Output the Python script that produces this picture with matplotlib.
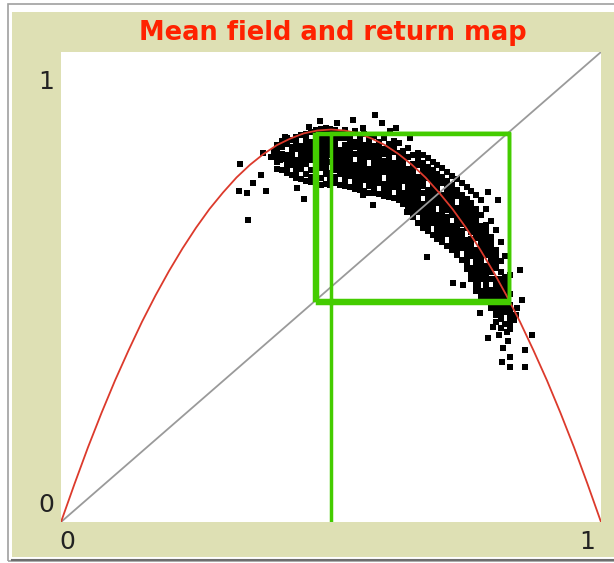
import matplotlib
matplotlib.use("Agg")
import matplotlib.pyplot as plt
from matplotlib.patches import Rectangle
from matplotlib.lines import Line2D

# ---------------- data ----------------
title = "Mean field and return map"
x_tick_labels = ["0", "1"]
y_tick_labels = ["0", "1"]

# mean-field return map (red curve)
map_x = [0.000, 0.025, 0.050, 0.075, 0.100, 0.125, 0.150, 0.175, 0.200, 0.225,
         0.250, 0.275, 0.300, 0.325, 0.350, 0.375, 0.400, 0.425, 0.450, 0.475,
         0.500, 0.525, 0.550, 0.575, 0.600, 0.625, 0.650, 0.675, 0.700, 0.725,
         0.750, 0.775, 0.800, 0.825, 0.850, 0.875, 0.900, 0.925, 0.950, 0.975, 1.000]
map_y = [0.000, 0.081, 0.159, 0.232, 0.301, 0.365, 0.426, 0.482, 0.534, 0.582,
         0.626, 0.666, 0.701, 0.733, 0.760, 0.783, 0.802, 0.816, 0.827, 0.833,
         0.835, 0.833, 0.827, 0.816, 0.802, 0.783, 0.760, 0.733, 0.701, 0.666,
         0.626, 0.582, 0.534, 0.482, 0.426, 0.365, 0.301, 0.232, 0.159, 0.081, 0.000]

# identity line
diag_x = [0.0, 1.0]
diag_y = [0.0, 1.0]

# cobweb (green)
cobweb_x = [0.500, 0.500, 0.829, 0.829, 0.469, 0.469, 0.829, 0.829, 0.474, 0.474, 0.830]
cobweb_y = [0.000, 0.828, 0.828, 0.472, 0.472, 0.826, 0.826, 0.467, 0.467, 0.828, 0.828]

# simulated return-map points: dense core, column by column
core_col_x = [0.400, 0.409, 0.418, 0.427, 0.436, 0.445, 0.454, 0.463, 0.472, 0.481,
              0.490, 0.499, 0.508, 0.517, 0.526, 0.535, 0.544, 0.553, 0.562, 0.571,
              0.580, 0.589, 0.598, 0.607, 0.616, 0.625, 0.634, 0.643, 0.652, 0.661,
              0.670, 0.679, 0.688, 0.697, 0.706, 0.715, 0.724, 0.733, 0.742, 0.751,
              0.760, 0.769, 0.778, 0.787, 0.796, 0.805, 0.814, 0.823, 0.832]
core_col_y = [
    [0.752, 0.765, 0.778, 0.790, 0.803],
    [0.748, 0.772, 0.784, 0.797, 0.810],
    [0.742, 0.755, 0.768, 0.781, 0.805, 0.816],
    [0.738, 0.760, 0.773, 0.786, 0.798, 0.812],
    [0.731, 0.745, 0.757, 0.770, 0.793, 0.806, 0.819],
    [0.729, 0.752, 0.764, 0.777, 0.789, 0.801, 0.823],
    [0.726, 0.740, 0.762, 0.775, 0.788, 0.800, 0.813, 0.826],
    [0.723, 0.735, 0.748, 0.770, 0.783, 0.796, 0.808, 0.830],
    [0.721, 0.744, 0.757, 0.769, 0.782, 0.794, 0.807, 0.819, 0.833],
    [0.718, 0.731, 0.753, 0.766, 0.779, 0.791, 0.804, 0.816, 0.836],
    [0.720, 0.741, 0.754, 0.766, 0.779, 0.792, 0.804, 0.817, 0.829],
    [0.718, 0.730, 0.743, 0.767, 0.780, 0.793, 0.805, 0.818, 0.836],
    [0.722, 0.735, 0.748, 0.760, 0.773, 0.786, 0.798, 0.811, 0.823, 0.835],
    [0.717, 0.741, 0.754, 0.766, 0.779, 0.791, 0.816, 0.828],
    [0.715, 0.728, 0.740, 0.753, 0.766, 0.778, 0.791, 0.803, 0.816, 0.834],
    [0.712, 0.736, 0.749, 0.761, 0.774, 0.787, 0.799, 0.812, 0.824],
    [0.709, 0.722, 0.734, 0.747, 0.759, 0.784, 0.797, 0.809, 0.831],
    [0.707, 0.719, 0.732, 0.745, 0.757, 0.770, 0.782, 0.795, 0.807, 0.820],
    [0.704, 0.728, 0.741, 0.753, 0.766, 0.778, 0.791, 0.803, 0.826],
    [0.701, 0.714, 0.727, 0.739, 0.752, 0.777, 0.789, 0.802, 0.814],
    [0.699, 0.712, 0.724, 0.737, 0.749, 0.762, 0.774, 0.787, 0.799, 0.822],
    [0.697, 0.721, 0.734, 0.746, 0.759, 0.771, 0.784, 0.796, 0.809],
    [0.694, 0.707, 0.719, 0.744, 0.757, 0.769, 0.782, 0.794, 0.816],
    [0.691, 0.704, 0.716, 0.729, 0.741, 0.754, 0.766, 0.779, 0.791, 0.804],
    [0.689, 0.713, 0.726, 0.738, 0.751, 0.763, 0.788, 0.800, 0.811],
    [0.686, 0.698, 0.711, 0.723, 0.736, 0.748, 0.761, 0.773, 0.786, 0.806],
    [0.676, 0.689, 0.701, 0.726, 0.739, 0.751, 0.764, 0.776, 0.789],
    [0.663, 0.676, 0.688, 0.701, 0.713, 0.726, 0.738, 0.751, 0.776, 0.796],
    [0.649, 0.662, 0.674, 0.687, 0.699, 0.712, 0.724, 0.737, 0.749, 0.762, 0.781],
    [0.636, 0.660, 0.673, 0.685, 0.698, 0.710, 0.723, 0.735, 0.760, 0.772, 0.786],
    [0.626, 0.639, 0.651, 0.664, 0.676, 0.701, 0.714, 0.726, 0.739, 0.751, 0.764, 0.780],
    [0.619, 0.631, 0.644, 0.656, 0.669, 0.681, 0.694, 0.706, 0.731, 0.744, 0.756, 0.774],
    [0.611, 0.636, 0.648, 0.661, 0.673, 0.686, 0.698, 0.711, 0.723, 0.736, 0.748, 0.767],
    [0.603, 0.615, 0.628, 0.640, 0.653, 0.678, 0.690, 0.703, 0.715, 0.728, 0.740, 0.760],
    [0.596, 0.608, 0.621, 0.633, 0.646, 0.658, 0.671, 0.683, 0.696, 0.721, 0.733, 0.753],
    [0.588, 0.613, 0.625, 0.638, 0.650, 0.663, 0.675, 0.688, 0.700, 0.713, 0.725, 0.745],
    [0.579, 0.591, 0.604, 0.616, 0.629, 0.654, 0.666, 0.679, 0.691, 0.704, 0.716, 0.737],
    [0.569, 0.581, 0.594, 0.606, 0.619, 0.631, 0.644, 0.656, 0.669, 0.694, 0.706, 0.729],
    [0.558, 0.583, 0.595, 0.608, 0.620, 0.633, 0.645, 0.658, 0.670, 0.683, 0.695, 0.721],
    [0.538, 0.551, 0.563, 0.576, 0.588, 0.601, 0.626, 0.638, 0.651, 0.663, 0.676, 0.688, 0.713],
    [0.516, 0.529, 0.541, 0.566, 0.578, 0.591, 0.603, 0.616, 0.628, 0.641, 0.653, 0.666, 0.678, 0.705],
    [0.491, 0.504, 0.516, 0.529, 0.541, 0.554, 0.566, 0.579, 0.604, 0.616, 0.629, 0.641, 0.654, 0.666, 0.696],
    [0.479, 0.491, 0.516, 0.529, 0.541, 0.554, 0.566, 0.579, 0.591, 0.604, 0.616, 0.629, 0.654, 0.686],
    [0.469, 0.481, 0.494, 0.506, 0.519, 0.531, 0.544, 0.569, 0.581, 0.594, 0.606, 0.619, 0.632, 0.666],
    [0.456, 0.468, 0.481, 0.493, 0.518, 0.531, 0.543, 0.556, 0.568, 0.581, 0.593, 0.606, 0.641],
    [0.441, 0.454, 0.466, 0.479, 0.491, 0.504, 0.516, 0.541, 0.554, 0.566, 0.579, 0.621],
    [0.431, 0.443, 0.456, 0.468, 0.481, 0.493, 0.506, 0.518, 0.531, 0.556, 0.596],
    [0.421, 0.446, 0.458, 0.471, 0.483, 0.496, 0.508, 0.521, 0.566],
    [0.411, 0.423, 0.436, 0.448, 0.461, 0.486, 0.526],
]

# sparse outlying points
sparse_x = [0.331, 0.344, 0.330, 0.356, 0.370, 0.380, 0.374, 0.346, 0.415, 0.437,
            0.450, 0.459, 0.480, 0.491, 0.541, 0.581, 0.594, 0.559, 0.511, 0.646,
            0.559, 0.578, 0.641, 0.678, 0.809, 0.791, 0.850, 0.854, 0.844, 0.872,
            0.791, 0.819, 0.859, 0.817, 0.831, 0.859, 0.831, 0.772, 0.776, 0.726,
            0.744, 0.805, 0.815, 0.826, 0.838, 0.812, 0.800, 0.842, 0.828, 0.810,
            0.395, 0.388, 0.405, 0.620, 0.610]
sparse_y = [0.762, 0.700, 0.704, 0.721, 0.738, 0.704, 0.785, 0.643, 0.819, 0.711,
            0.687, 0.840, 0.853, 0.838, 0.855, 0.866, 0.849, 0.838, 0.849, 0.817,
            0.696, 0.674, 0.660, 0.564, 0.685, 0.702, 0.536, 0.472, 0.455, 0.398,
            0.391, 0.370, 0.366, 0.340, 0.330, 0.330, 0.351, 0.504, 0.445, 0.509,
            0.504, 0.425, 0.412, 0.404, 0.430, 0.398, 0.415, 0.441, 0.385, 0.447,
            0.790, 0.776, 0.770, 0.838, 0.832]

# ---------------- figure ----------------
W, H = 614, 563
fig = plt.figure(figsize=(W / 100, H / 100), dpi=100)
fig.patch.set_facecolor("white")


def fx(px):
    return px / W


def fy(py):
    return 1 - py / H


# outer frame and tan panel (behind the axes)
fig.patches.append(Rectangle((fx(8), fy(561)), fx(620) - fx(8), fy(4) - fy(561),
                             transform=fig.transFigure, facecolor="none",
                             edgecolor="#a0a0a0", linewidth=1.2, zorder=-10))
fig.patches.append(Rectangle((fx(12), fy(557)), fx(614) - fx(12), fy(12) - fy(557),
                             transform=fig.transFigure, facecolor="#dee0b4",
                             edgecolor="none", zorder=-9))
fig.lines.append(Line2D([fx(12), fx(614)], [fy(559.5), fy(559.5)],
                        transform=fig.transFigure, color="#6e6e6e", linewidth=1.5,
                        zorder=-8))

ax = fig.add_axes([fx(61), fy(522), (601 - 61) / W, (522 - 52) / H])
ax.set_zorder(1)
ax.set_facecolor("white")
ax.set_xlim(0, 1)
ax.set_ylim(0, 1)
ax.set_xticks([])
ax.set_yticks([])
for s in ax.spines.values():
    s.set_visible(False)

# points
pts_x, pts_y = [], []
for cx, ys in zip(core_col_x, core_col_y):
    for yv in ys:
        pts_x.append(cx)
        pts_y.append(yv)
pts_x += sparse_x
pts_y += sparse_y
ax.plot(pts_x, pts_y, linestyle="none", marker="s", markersize=5.0,
        markeredgewidth=0, color="black", zorder=2, clip_on=False)

ax.plot(diag_x, diag_y, color="#9a9a9a", linewidth=1.3, zorder=3)
ax.plot(map_x, map_y, color="#dc3a2c", linewidth=1.3, zorder=4)
ax.plot(cobweb_x, cobweb_y, color="#44cc00", linewidth=2.5, zorder=5,
        solid_joinstyle="miter", solid_capstyle="butt")

# title and axis labels
fig.text(fx(333), fy(33), title, color="#ff2200", fontsize=18.5,
         fontweight="bold", ha="center", va="center")
lab_kw = dict(color="#222222", fontsize=18, ha="center", va="center")
fig.text(fx(46), fy(82), y_tick_labels[1], **lab_kw)
fig.text(fx(46), fy(505), y_tick_labels[0], **lab_kw)
fig.text(fx(67), fy(542), x_tick_labels[0], **lab_kw)
fig.text(fx(587), fy(542), x_tick_labels[1], **lab_kw)

fig.savefig("out.png", dpi=100, facecolor=fig.get_facecolor())
